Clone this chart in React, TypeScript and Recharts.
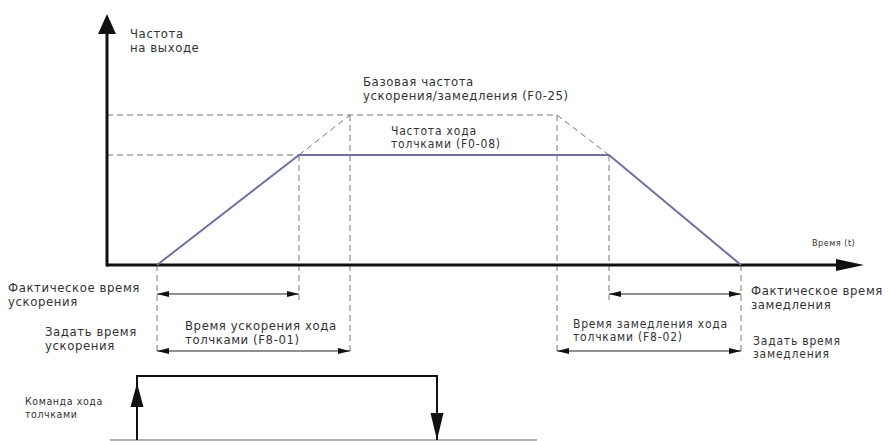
import React from 'react';
import { ComposedChart, Line, Scatter, XAxis, YAxis, ReferenceLine } from 'recharts';

// time in arbitrary units, output frequency in % of axis
const jogFreq = 44;
const baseFreq = 60;

const accelStart = 5.0;
const accelEnd = 19.2;
const setAccelEnd = 24.3;
const setDecelStart = 45.0;
const decelStart = 50.2;
const decelEnd = 63.4;

const commandOn = 3.0;
const commandOff = 33.0;
const commandLow = -70;
const commandHigh = -44.4;

// actual output frequency while jogging
const jogOutput = [
    { t: accelStart, f: 0 },
    { t: accelEnd, f: jogFreq },
    { t: decelStart, f: jogFreq },
    { t: decelEnd, f: 0 },
];

// jog command pulse
const jogCommand = [
    { t: commandOn, f: commandLow },
    { t: commandOn, f: commandHigh },
    { t: commandOff, f: commandHigh },
    { t: commandOff, f: commandLow },
];

// rows for the time dimension arrows
const actualRow = -11.6;
const setRow = -34.4;

const arrowHeads = [
    { t: 0, f: 100.4, dir: 'up', kind: 'axisY' },
    { t: 75.7, f: 0, dir: 'right', kind: 'axisX' },
    { t: accelStart, f: actualRow, dir: 'left', kind: 'dim' },
    { t: accelEnd, f: actualRow, dir: 'right', kind: 'dim' },
    { t: accelStart, f: setRow, dir: 'left', kind: 'dim' },
    { t: setAccelEnd, f: setRow, dir: 'right', kind: 'dim' },
    { t: decelStart, f: actualRow, dir: 'left', kind: 'dim' },
    { t: decelEnd, f: actualRow, dir: 'right', kind: 'dim' },
    { t: setDecelStart, f: setRow, dir: 'left', kind: 'dim' },
    { t: decelEnd, f: setRow, dir: 'right', kind: 'dim' },
    { t: commandOn, f: -47.2, dir: 'up', kind: 'cmdUp' },
    { t: commandOff, f: commandLow, dir: 'down', kind: 'cmdDown' },
];

const notes = [
    { t: 2.3, f: 90.8, kind: 'm', lines: ['Частота', 'на выходе'] },
    { t: 25.6, f: 71.6, kind: 'm', lines: ['Базовая частота', 'ускорения/замедления (F0-25)'] },
    { t: 28.4, f: 52.0, kind: 'tight', lines: ['Частота хода', 'толчками (F0-08)'] },
    { t: 70.5, f: 7.6, kind: 'xs', lines: ['Время (t)'] },
    { t: -9.9, f: -10.8, kind: 'm', lines: ['Фактическое время', 'ускорения'] },
    { t: -6.2, f: -28.4, kind: 'm', lines: ['Задать время', 'ускорения'] },
    { t: 7.8, f: -26, kind: 'm', lines: ['Время ускорения хода', 'толчками (F8-01)'] },
    { t: 46.6, f: -25.2, kind: 'tight', lines: ['Время замедления хода', 'толчками (F8-02)'] },
    { t: 64.4, f: -12, kind: 'm', lines: ['Фактическое время', 'замедления'] },
    { t: 64.6, f: -32.0, kind: 'tight', lines: ['Задать время', 'замедления'] },
    { t: -8.2, f: -56.0, kind: 's', lines: ['Команда хода', 'толчками'] },
];

const HEAD: Record<string, { len: number; half: number }> = {
    axisY: { len: 20, half: 9 },
    axisX: { len: 28, half: 6 },
    dim: { len: 12, half: 3 },
    cmdUp: { len: 24, half: 6.5 },
    cmdDown: { len: 27, half: 6.5 },
};

const NOTE: Record<string, { size: number; lh: number; ls: number }> = {
    m: { size: 13, lh: 14, ls: 0.6 },
    tight: { size: 12, lh: 13, ls: 0.8 },
    s: { size: 10.5, lh: 13, ls: 0.6 },
    xs: { size: 9, lh: 10, ls: 0.5 },
};

const FONT = "'DejaVu Sans Condensed', 'DejaVu Sans', sans-serif";

const ArrowHead = (props: any) => {
    const { cx, cy, payload } = props;
    const { len, half } = HEAD[payload.kind];
    let pts = '';
    switch (payload.dir) {
        case 'up':
            pts = `${cx},${cy} ${cx - half},${cy + len} ${cx + half},${cy + len}`;
            break;
        case 'down':
            pts = `${cx},${cy} ${cx - half},${cy - len} ${cx + half},${cy - len}`;
            break;
        case 'left':
            pts = `${cx},${cy} ${cx + len},${cy - half} ${cx + len},${cy + half}`;
            break;
        default:
            pts = `${cx},${cy} ${cx - len},${cy - half} ${cx - len},${cy + half}`;
    }
    return <polygon points={pts} fill="#111" />;
};

const NoteText = (props: any) => {
    const { cx, cy, payload } = props;
    const s = NOTE[payload.kind];
    return (
        <text
            x={cx}
            y={cy}
            fontSize={s.size}
            fontFamily={FONT}
            letterSpacing={s.ls}
            fill="#333"
        >
            {payload.lines.map((line: string, i: number) => (
                <tspan key={i} x={cx} dy={i === 0 ? 0 : s.lh}>{line}</tspan>
            ))}
        </text>
    );
};

const dash = { stroke: '#777', strokeWidth: 1, strokeDasharray: '6 4' };
const dimLine = { stroke: '#222', strokeWidth: 1.2 };
const axisLine = { stroke: '#111', strokeWidth: 3 };

const App: React.FC = () => {
    return (
        <div style={{ width: 888, height: 441, background: '#fff' }}>
            <style>{'body{margin:0}'}</style>
            <ComposedChart width={888} height={441} margin={{ top: 0, right: 0, bottom: 0, left: 0 }}>
                <XAxis type="number" dataKey="t" domain={[-10.7, 78.1]} hide />
                <YAxis type="number" dataKey="f" domain={[-70.4, 106]} hide />

                {/* dashed guides */}
                <ReferenceLine segment={[{ x: 0, y: baseFreq }, { x: setDecelStart, y: baseFreq }]} {...dash} />
                <ReferenceLine segment={[{ x: 0, y: jogFreq }, { x: accelEnd, y: jogFreq }]} {...dash} />
                <ReferenceLine segment={[{ x: accelEnd, y: jogFreq }, { x: setAccelEnd, y: baseFreq }]} {...dash} />
                <ReferenceLine segment={[{ x: setDecelStart, y: baseFreq }, { x: decelStart, y: jogFreq }]} {...dash} />
                <ReferenceLine segment={[{ x: accelStart, y: 0 }, { x: accelStart, y: -36 }]} {...dash} />
                <ReferenceLine segment={[{ x: accelEnd, y: jogFreq }, { x: accelEnd, y: -14 }]} {...dash} />
                <ReferenceLine segment={[{ x: setAccelEnd, y: baseFreq }, { x: setAccelEnd, y: -36 }]} {...dash} />
                <ReferenceLine segment={[{ x: setDecelStart, y: baseFreq }, { x: setDecelStart, y: -36 }]} {...dash} />
                <ReferenceLine segment={[{ x: decelStart, y: jogFreq }, { x: decelStart, y: -14 }]} {...dash} />
                <ReferenceLine segment={[{ x: decelEnd, y: 0 }, { x: decelEnd, y: -36 }]} {...dash} />

                {/* time dimension lines */}
                <ReferenceLine segment={[{ x: accelStart, y: actualRow }, { x: accelEnd, y: actualRow }]} {...dimLine} />
                <ReferenceLine segment={[{ x: accelStart, y: setRow }, { x: setAccelEnd, y: setRow }]} {...dimLine} />
                <ReferenceLine segment={[{ x: decelStart, y: actualRow }, { x: decelEnd, y: actualRow }]} {...dimLine} />
                <ReferenceLine segment={[{ x: setDecelStart, y: setRow }, { x: decelEnd, y: setRow }]} {...dimLine} />

                {/* axes */}
                <ReferenceLine segment={[{ x: 0, y: -0.6 }, { x: 0, y: 94 }]} {...axisLine} />
                <ReferenceLine segment={[{ x: 0, y: 0 }, { x: 73, y: 0 }]} {...axisLine} />

                {/* command baseline */}
                <ReferenceLine segment={[{ x: 0.3, y: commandLow }, { x: 43, y: commandLow }]} stroke="#999" strokeWidth={1.5} />

                <Line data={jogOutput} dataKey="f" type="linear" stroke="#6e72a0" strokeWidth={2} dot={false} isAnimationActive={false} />
                <Line data={jogCommand} dataKey="f" type="linear" stroke="#111" strokeWidth={2} dot={false} isAnimationActive={false} />

                <Scatter data={arrowHeads} dataKey="f" shape={ArrowHead} isAnimationActive={false} />
                <Scatter data={notes} dataKey="f" shape={NoteText} isAnimationActive={false} />
            </ComposedChart>
        </div>
    );
};

export default App;
